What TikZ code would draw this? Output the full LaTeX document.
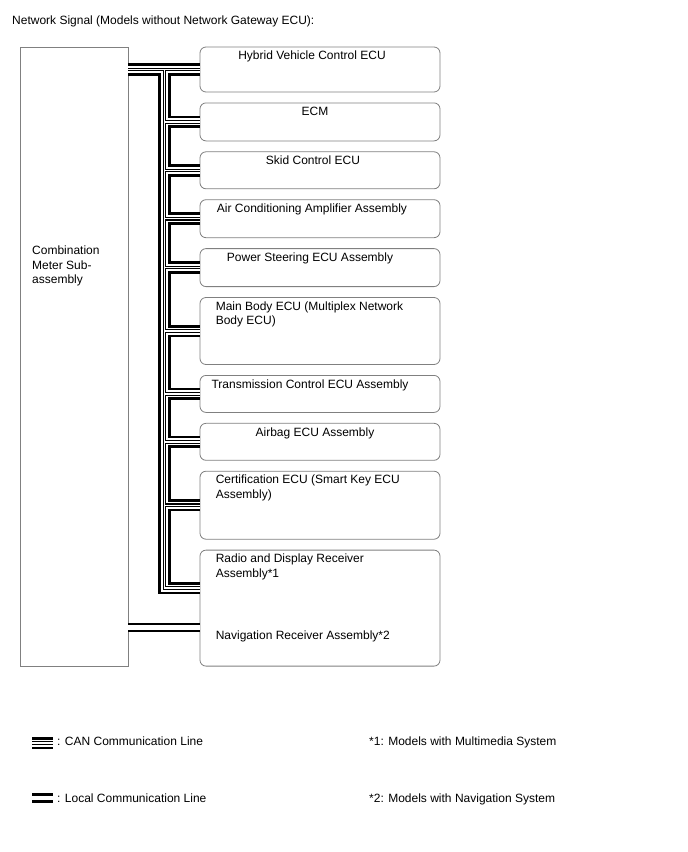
\documentclass[tikz,border=0pt]{standalone}
\usepackage{fontspec}
\setmainfont{Liberation Sans}
\usetikzlibrary{positioning}

\tikzset{
  ecu/.style={draw=black!50, line width=0.8pt, rounded corners=6pt, minimum width=240pt, inner sep=0pt},
  ecutext/.style={anchor=north, inner sep=0pt},
  ecutextl/.style={anchor=north west, inner sep=0pt, align=left},
  can/.style={line width=12.5pt,
    postaction={draw, white, line width=7pt},
    postaction={draw, black, line width=3.6pt},
    postaction={draw, white, line width=1.4pt}},
  local/.style={double, line width=2.3pt, double distance=4.5pt}
}

\begin{document}
\begin{tikzpicture}[x=1pt, y=-1pt, node distance=10.1pt, font=\fontsize{12}{14.5}\selectfont]
\useasboundingbox (0,0) rectangle (688,852);

\node (title) [anchor=north west, inner sep=0pt] at (12,15.7) {Network Signal (Models without Network Gateway ECU):};

% meter and ecus
\node (meter) [draw=black!50, line width=0.8pt, minimum width=108pt, minimum height=619pt, inner sep=0pt] at (74,356.5) {};
\node (metertxt) [ecutextl] at (32,245.7) {Combination\\Meter Sub-\\assembly};

\node (hyb) [ecu, minimum height=45pt] at (320,69.5) {};
\node (ecm) [ecu, minimum height=38pt, below=of hyb] {};
\node (skid) [ecu, minimum height=37pt, below=of ecm] {};
\node (aircon) [ecu, minimum height=38pt, below=of skid] {};
\node (steer) [ecu, minimum height=38pt, below=of aircon] {};
\node (body) [ecu, minimum height=67pt, below=of steer] {};
\node (trans) [ecu, minimum height=37pt, below=of body] {};
\node (airbag) [ecu, minimum height=37pt, below=of trans] {};
\node (cert) [ecu, minimum height=68pt, below=of airbag] {};
\node (radio) [ecu, minimum height=116pt, below=of cert] {};

\node (hybtxt) [ecutext] at ([xshift=-8pt,yshift=-4.5pt]hyb.north) {Hybrid Vehicle Control ECU};
\node (ecmtxt) [ecutext] at ([xshift=-5pt,yshift=-4.5pt]ecm.north) {ECM};
\node (skidtxt) [ecutext] at ([xshift=-7pt,yshift=-4.5pt]skid.north) {Skid Control ECU};
\node (aircontxt) [ecutext] at ([xshift=-8pt,yshift=-4.5pt]aircon.north) {Air Conditioning Amplifier Assembly};
\node (steertxt) [ecutext] at ([xshift=-10pt,yshift=-4.5pt]steer.north) {Power Steering ECU Assembly};
\node (bodytxt) [ecutextl] at ([xshift=16pt,yshift=-4pt]body.north west) {Main Body ECU (Multiplex Network\\Body ECU)};
\node (transtxt) [ecutext] at ([xshift=-10pt,yshift=-4.5pt]trans.north) {Transmission Control ECU Assembly};
\node (airbagtxt) [ecutext] at ([xshift=-5pt,yshift=-4.5pt]airbag.north) {Airbag ECU Assembly};
\node (certtxt) [ecutextl] at ([xshift=16pt,yshift=-4pt]cert.north west) {Certification ECU (Smart Key ECU\\Assembly)};
\node (radiotxt) [ecutextl] at ([xshift=16pt,yshift=-4pt]radio.north west) {Radio and Display Receiver\\Assembly*1};
\node (navtxt) [ecutextl] at ([xshift=16pt,yshift=36.3pt]radio.south west) {Navigation Receiver Assembly*2};

% can bus
\coordinate (bus) at ([xshift=36pt]hyb.west -| meter.east);
\draw [can] (hyb.west -| meter.east) -- (hyb.west)
  (bus) |- ([yshift=20pt]radio.west)
  \foreach \b in {ecm,skid,aircon,steer,body,trans,airbag,cert} {(bus |- \b.west) -- (\b.west)};

% local line
\draw [local] ([yshift=-19.5pt]radio.west -| meter.east) -- ([yshift=-19.5pt]radio.west);

% legend
\coordinate (canA) at (32,743);
\coordinate (canB) at (53,743);
\coordinate (locA) at (32,798);
\coordinate (locB) at (53,798);
\draw [can] (canA) -- (canB);
\draw [local] (locA) -- (locB);
\node (cantxt) [anchor=north west, inner sep=0pt] at (57,736.7) {: CAN Communication Line};
\node (loctxt) [anchor=north west, inner sep=0pt] at (57,793.7) {: Local Communication Line};
\node (note1) [anchor=north west, inner sep=0pt] at (369,736.7) {*1: Models with Multimedia System};
\node (note2) [anchor=north west, inner sep=0pt] at (369,793.7) {*2: Models with Navigation System};
\end{tikzpicture}
\end{document}
